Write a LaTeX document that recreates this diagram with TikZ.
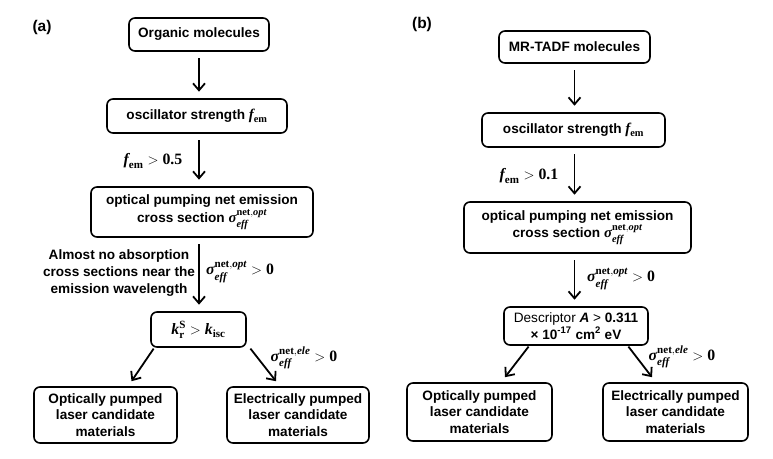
\documentclass[tikz,border=0pt]{standalone}
\usepackage{amsmath, amssymb}
\usepackage{fontspec}
\setmainfont{Liberation Sans}
\newfontfamily\tms{Liberation Serif}
\usetikzlibrary{arrows.meta, positioning}

% serif bold italic / bold upright pieces of the formulas
\newcommand{\bi}[1]{\text{\tms\bfseries\itshape #1}}
\newcommand{\bu}[1]{\text{\tms\bfseries\upshape #1}}
\newcommand{\sigeff}[1]{\bi{σ}^{\bu{net},\bi{#1}}_{\bi{eff}}}
\newcommand{\fem}{\bi{f}_{\bu{em}}}
\newcommand{\fml}[1]{{\fontsize{15.8}{16.7}\selectfont$#1$}}
\newcommand{\fmlbox}[1]{{\fontsize{14.8}{16.7}\selectfont$#1$}}

\begin{document}
\begin{tikzpicture}[x=1pt, y=-1pt,
    box/.style={draw, line width=1.6pt, rounded corners=6pt, align=center, inner sep=2pt,
      font=\fontsize{13.6}{16.7}\selectfont\bfseries},
    arr/.style={-{Straight Barb[length=7pt, width=12pt]}, line width=1.8pt,
      shorten <=6.5pt, shorten >=6.5pt},
    lbl/.style={align=center, inner sep=0pt, font=\fontsize{13.6}{16.7}\selectfont\bfseries},
    tag/.style={inner sep=0pt, font=\fontsize{15.5}{18}\selectfont\bfseries}]
  \useasboundingbox (0, 0) rectangle (773, 458);

  % (a) organic molecules
  \node[tag] (tagA) at (42, 27) {(a)};
  \node[box, minimum width=140, minimum height=33] (a1) at (199, 34.5) {Organic molecules};
  \node[box, minimum width=180, minimum height=34] (a2) at (197, 116) {oscillator strength \fmlbox{\fem}};
  \node[box, minimum width=222, minimum height=50] (a3) at (202, 212)
    {optical pumping net emission\\[1pt]cross section \fmlbox{\sigeff{opt}}};
  \node[box, minimum width=95, minimum height=35] (a4) at (198.5, 329.5)
    {\fml{\bi{k}^{\bu{S}}_{\bu{r}} > \bi{k}_{\bu{isc}}}};
  \node[box, minimum width=143, minimum height=56] (a5) at (105.5, 415)
    {Optically pumped\\laser candidate\\materials};
  \node[box, minimum width=142, minimum height=56] (a6) at (298, 415)
    {Electrically pumped\\laser candidate\\materials};

  \draw[arr] (a1.south) -- (a1.south |- a2.north);
  \draw[arr] (a1.south |- a2.south) -- (a1.south |- a3.north);
  \draw[arr] (a1.south |- a3.south) -- (a1.south |- a4.north);
  \draw[arr, shorten <=1pt, shorten >=0pt] ([xshift=4pt]a4.south west) -- ([xshift=26pt, yshift=5pt]a5.north);
  \draw[arr, shorten <=1pt, shorten >=0pt] ([xshift=3pt]a4.south east) -- ([xshift=-22pt, yshift=5pt]a6.north);

  \node[lbl] (la1) at (153, 161) {\fml{\fem > \bu{0.5}}};
  \node[lbl] (la2) at (119, 273) {Almost no absorption\\cross sections near the\\emission wavelength};
  \node[lbl] (la3) at (240, 272) {\fml{\sigeff{opt} > \bu{0}}};
  \node[lbl] (la4) at (304, 358) {\fml{\sigeff{ele} > \bu{0}}};

  % (b) MR-TADF molecules
  \node[tag] (tagB) at (422, 24) {(b)};
  \node[box, minimum width=151, minimum height=32] (b1) at (574.5, 47) {MR-TADF molecules};
  \node[box, minimum width=183, minimum height=34] (b2) at (573.5, 130) {oscillator strength \fmlbox{\fem}};
  \node[box, minimum width=227, minimum height=51] (b3) at (577.5, 227.5)
    {optical pumping net emission\\[1pt]cross section \fmlbox{\sigeff{opt}}};
  \node[box, minimum width=144, minimum height=38] (b4) at (576, 326)
    {{\mdseries Descriptor} \textit{A} {\mdseries >} 0.311\\× 10\textsuperscript{-17} cm\textsuperscript{2} eV};
  \node[box, minimum width=145, minimum height=58] (b5) at (479.5, 412)
    {Optically pumped\\laser candidate\\materials};
  \node[box, minimum width=145, minimum height=58] (b6) at (675.5, 412)
    {Electrically pumped\\laser candidate\\materials};

  \draw[arr] (b1.south) -- (b1.south |- b2.north);
  \draw[arr] (b1.south |- b2.south) -- (b1.south |- b3.north);
  \draw[arr] (b1.south |- b3.south) -- (b1.south |- b4.north);
  \draw[arr, shorten <=1pt, shorten >=0pt] ([xshift=26pt]b4.south west) -- ([xshift=25.5pt, yshift=5pt]b5.north);
  \draw[arr, shorten <=1pt, shorten >=0pt] ([xshift=-21pt]b4.south east) -- ([xshift=-23.5pt, yshift=5pt]b6.north);

  \node[lbl] (lb1) at (529, 176) {\fml{\fem > \bu{0.1}}};
  \node[lbl] (lb2) at (621, 279) {\fml{\sigeff{opt} > \bu{0}}};
  \node[lbl] (lb3) at (682, 357) {\fml{\sigeff{ele} > \bu{0}}};
\end{tikzpicture}
\end{document}
